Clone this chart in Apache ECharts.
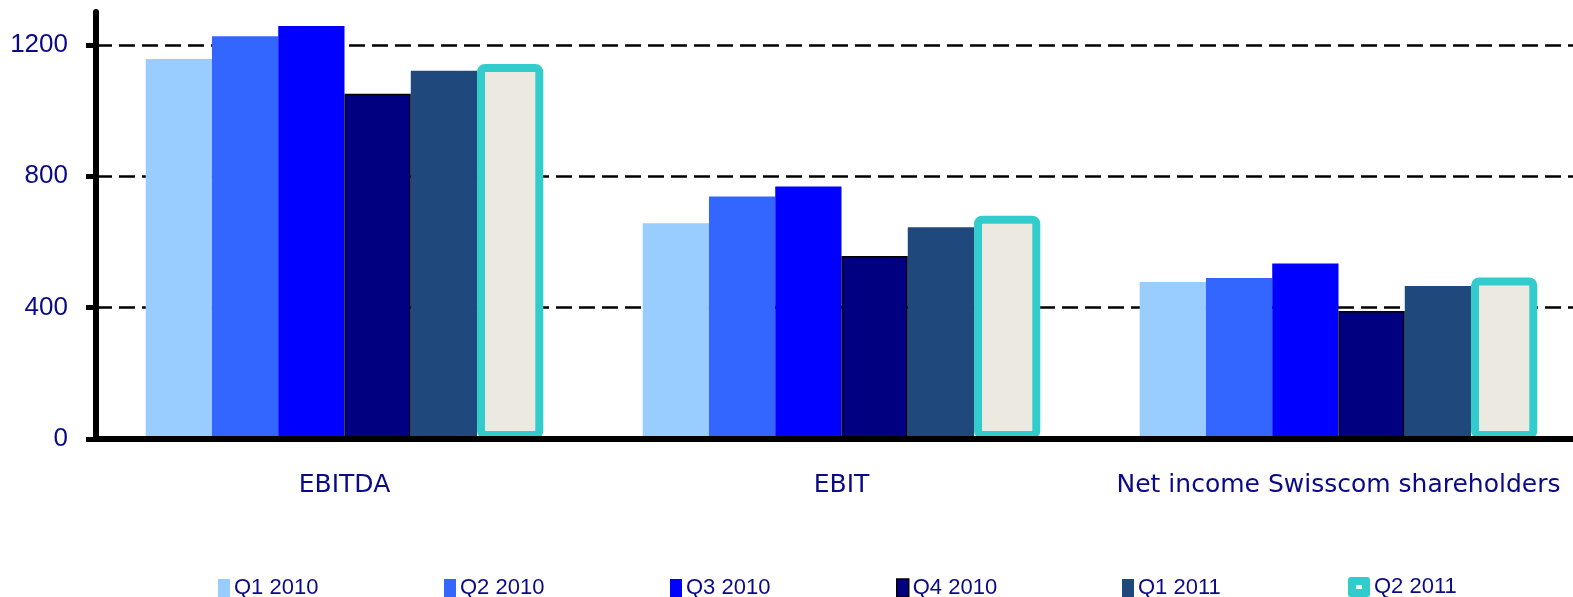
<!DOCTYPE html>
<html>
<head>
<meta charset="utf-8">
<title>Swisscom quarterly results</title>
<script src="https://cdn.jsdelivr.net/npm/echarts@6/dist/echarts.min.js"></script>
<style>
  html, body { margin: 0; padding: 0; background: #fff; }
  #chart { width: 1573px; height: 597px; }
</style>
</head>
<body>
<div id="chart"></div>
<script>
// categories on the x axis
var categories = ['EBITDA', 'EBIT', 'Net income Swisscom shareholders']
// quarter names (legend + series)
var quarters = ['Q1 2010', 'Q2 2010', 'Q3 2010', 'Q4 2010', 'Q1 2011', 'Q2 2011']
// values, one list per quarter
var q1_2010 = [1157, 657, 478]
var q2_2010 = [1226, 738, 490]
var q3_2010 = [1257, 769, 534]
var q4_2010 = [1051, 557, 390]
var q1_2011 = [1121, 645, 466]
var q2_2011 = [1142, 680, 492]
// y axis tick labels
var yTicks = [0, 400, 800, 1200]

var values = [q1_2010, q2_2010, q3_2010, q4_2010, q1_2011, q2_2011]
var navy = '#0a0a88'

// bar styles per quarter
var barStyles = [
  { color: '#99ccff' },
  { color: '#3366ff' },
  { color: '#0000ff' },
  { color: '#000080', borderColor: '#000000', borderWidth: 1.5 },
  { color: '#1f497d' },
  { color: '#eceae0', borderColor: '#33cccc', borderWidth: 8, borderRadius: 4 }
]

var series = quarters.map(function (name, i) {
  return {
    name: name,
    type: 'bar',
    data: values[i],
    barGap: '0%',
    barCategoryGap: '20%',
    itemStyle: barStyles[i]
  }
})

// one legend per quarter so each item sits at its own place
var legends = quarters.map(function (name, i) {
  var last = i === quarters.length - 1
  var st = { color: barStyles[i].color, borderWidth: 0 }
  if (i === 3) {
    st.borderColor = '#000000'
    st.borderWidth = 1.5
  }
  if (last) {
    st.color = '#33cccc'
  }
  return {
    data: [name],
    left: 213 + i * 226,
    top: last ? 571 : 572,
    padding: 5,
    orient: 'horizontal',
    itemWidth: last ? 22 : 12,
    itemHeight: last ? 20 : 18,
    icon: last
      ? 'path://M3,0H19Q22,0 22,3V17Q22,20 19,20H3Q0,20 0,17V3Q0,0 3,0ZM8,8V12H14V8Z'
      : 'rect',
    itemStyle: st,
    selectedMode: false,
    textStyle: {
      color: navy,
      fontFamily: 'Liberation Sans',
      fontSize: 22,
      lineHeight: 20,
      padding: [0, 0, 0, -1]
    }
  }
})

var option = {
  animation: false,
  backgroundColor: '#ffffff',
  grid: {
    left: 96,
    top: 12,
    width: 1491,
    height: 427,
    outerBoundsMode: 'none'
  },
  legend: legends,
  xAxis: {
    type: 'category',
    data: categories,
    z: 5,
    axisLine: { lineStyle: { color: '#000', width: 6 } },
    axisTick: { length: 8, lineStyle: { color: '#000', width: 5 } },
    axisLabel: {
      interval: 0,
      margin: 34,
      color: navy,
      fontFamily: 'DejaVu Sans',
      fontSize: 25,
      lineHeight: 25
    },
    splitLine: { show: false }
  },
  yAxis: {
    type: 'value',
    min: 0,
    max: 1300,
    interval: 400,
    axisLine: { show: true, lineStyle: { color: '#000', width: 6 } },
    axisTick: {
      show: true,
      length: 10,
      customValues: yTicks,
      lineStyle: { color: '#000', width: 5 }
    },
    axisLabel: {
      customValues: yTicks,
      margin: 28,
      color: navy,
      fontFamily: 'Liberation Sans',
      fontSize: 26,
      formatter: function (v) { return String(v) }
    },
    splitLine: {
      show: true,
      showMinLine: false,
      lineStyle: { color: '#000', width: 2.5, type: [16, 7] }
    }
  },
  series: series
}

var chart = echarts.init(document.getElementById('chart'))
chart.setOption(option)
</script>
</body>
</html>
